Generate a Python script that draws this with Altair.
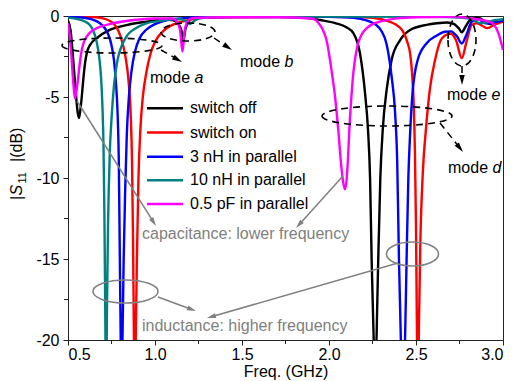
import math
import altair as alt
import pandas as pd

FONT = "Liberation Sans"

series_names = ["switch off", "switch on", "3 nH in parallel", "10 nH in parallel", "0.5 pF in parallel"]
series_colors = ["#000000", "#ff0000", "#0000ff", "#008080", "#ff00ff"]

# (frequency GHz, |S11| dB)
switch_off = [(0.50, -0.3), (0.515, -0.9), (0.53, -2.7), (0.545, -4.75), (0.555, -5.9), (0.563, -6.3),
              (0.571, -5.8), (0.579, -5.0), (0.588, -3.9), (0.598, -2.9), (0.61, -2.2), (0.626, -1.8),
              (0.665, -1.37), (0.74, -0.86), (0.837, -0.56), (0.952, -0.35), (1.05, -0.22), (1.10, -0.25),
              (1.135, -0.5), (1.152, -0.9), (1.163, -1.5), (1.175, -0.8), (1.19, -0.4), (1.22, -0.15),
              (1.3, -0.08), (1.5, -0.06), (1.7, -0.06), (1.85, -0.1), (1.95, -0.25), (2.04, -0.45),
              (2.10, -0.7), (2.14, -1.05), (2.178, -2.3), (2.207, -4.75), (2.224, -7.0), (2.236, -10.0),
              (2.245, -15.0), (2.257, -20.0), (2.265, -24.0), (2.273, -20.0), (2.283, -15.0), (2.295, -10.0),
              (2.309, -7.0), (2.332, -4.5), (2.36, -2.7), (2.408, -1.5), (2.466, -0.86), (2.56, -0.55),
              (2.62, -0.45), (2.68, -0.4), (2.72, -0.5), (2.745, -0.75), (2.763, -1.0), (2.785, -0.65),
              (2.81, -0.25), (2.84, -0.1), (2.87, -0.15), (2.9, -0.4), (2.93, -0.5), (2.96, -0.35), (3.0, -0.3)]

switch_on = [(0.50, -0.02), (0.62, -0.05), (0.70, -0.15), (0.76, -0.45), (0.80, -1.2), (0.83, -2.5),
             (0.848, -4.0), (0.86, -6.0), (0.868, -9.0), (0.874, -14.0), (0.879, -20.0), (0.884, -24.0),
             (0.889, -20.0), (0.896, -15.0), (0.905, -10.0), (0.916, -7.0), (0.93, -5.0), (0.95, -3.5),
             (0.975, -2.3), (1.0, -1.6), (1.05, -0.9), (1.1, -0.55), (1.17, -0.3), (1.25, -0.15),
             (1.4, -0.07), (1.7, -0.05), (2.0, -0.05), (2.2, -0.08), (2.3, -0.2), (2.36, -0.4),
             (2.40, -0.65), (2.425, -0.95), (2.45, -1.6), (2.466, -2.3), (2.478, -3.6), (2.487, -5.5),
             (2.494, -8.5), (2.50, -13.0), (2.505, -19.0), (2.511, -24.0), (2.517, -19.0), (2.525, -14.0),
             (2.54, -9.5), (2.557, -7.0), (2.58, -4.5), (2.61, -2.7), (2.638, -1.6), (2.667, -1.2),
             (2.70, -1.1), (2.73, -1.5), (2.763, -2.6), (2.79, -1.6), (2.82, -0.55), (2.85, -0.45),
             (2.88, -0.6), (2.91, -0.75), (2.94, -0.6), (2.97, -0.45), (3.0, -0.35)]

nh3 = [(0.50, -0.05), (0.60, -0.12), (0.66, -0.3), (0.70, -0.6), (0.73, -1.1), (0.75, -1.8),
       (0.765, -2.8), (0.776, -4.2), (0.785, -6.0), (0.792, -9.0), (0.797, -14.0), (0.803, -20.0),
       (0.808, -24.0), (0.813, -20.0), (0.82, -15.0), (0.828, -11.0), (0.838, -7.3), (0.85, -5.0),
       (0.865, -3.4), (0.885, -2.2), (0.91, -1.4), (0.95, -0.85), (1.0, -0.5), (1.07, -0.25),
       (1.15, -0.15), (1.3, -0.07), (1.6, -0.04), (1.9, -0.04), (2.1, -0.08), (2.18, -0.18),
       (2.236, -0.35), (2.27, -0.55), (2.30, -0.9), (2.33, -1.7), (2.36, -3.75), (2.38, -6.0),
       (2.392, -9.0), (2.402, -15.0), (2.413, -20.0), (2.425, -24.0), (2.437, -20.0), (2.446, -15.0),
       (2.456, -10.0), (2.466, -7.3), (2.48, -4.75), (2.51, -2.7), (2.56, -1.7), (2.62, -1.2),
       (2.667, -0.97), (2.70, -0.95), (2.735, -1.25), (2.763, -1.7), (2.79, -1.15), (2.82, -0.35),
       (2.86, -0.2), (2.9, -0.45), (2.94, -0.4), (3.0, -0.3)]

nh10 = [(0.50, -0.1), (0.56, -0.2), (0.60, -0.35), (0.625, -0.55), (0.645, -0.9), (0.665, -1.6),
        (0.68, -2.6), (0.69, -3.8), (0.698, -5.6), (0.704, -8.0), (0.709, -12.0), (0.714, -18.0),
        (0.719, -24.0), (0.724, -18.0), (0.73, -13.0), (0.74, -8.5), (0.751, -6.2), (0.765, -4.2),
        (0.785, -2.7), (0.81, -1.8), (0.84, -1.2), (0.89, -0.75), (0.95, -0.45), (1.03, -0.3),
        (1.1, -0.2), (1.15, -0.2), (1.18, -0.35), (1.2, -0.5), (1.22, -0.35), (1.26, -0.12),
        (1.4, -0.05), (2.0, -0.03), (2.6, -0.05), (2.75, -0.1), (2.82, -0.2), (2.87, -0.45),
        (2.92, -0.35), (2.96, -0.25), (3.0, -0.2)]

pf05 = [(0.50, -0.45), (0.51, -1.2), (0.521, -2.7), (0.531, -4.2), (0.54, -5.1), (0.549, -4.6),
        (0.559, -3.75), (0.568, -2.9), (0.579, -2.1), (0.59, -1.65), (0.607, -1.27), (0.635, -0.95),
        (0.665, -0.75), (0.74, -0.5), (0.875, -0.25), (1.0, -0.15), (1.1, -0.15), (1.13, -0.4),
        (1.145, -0.95), (1.158, -2.2), (1.17, -0.95), (1.185, -0.4), (1.22, -0.12), (1.4, -0.08),
        (1.7, -0.08), (1.9, -0.15), (1.948, -0.55), (1.99, -1.7), (2.015, -3.4), (2.035, -5.0),
        (2.053, -7.0), (2.07, -9.2), (2.082, -10.3), (2.092, -10.7), (2.102, -10.0), (2.11, -8.6),
        (2.117, -7.0), (2.13, -4.8), (2.14, -3.5), (2.155, -2.3), (2.167, -1.7), (2.19, -1.1),
        (2.217, -0.75), (2.25, -0.5), (2.293, -0.35), (2.39, -0.15), (2.5, -0.08), (2.7, -0.05),
        (2.85, -0.2), (2.92, -0.35), (2.95, -0.55), (2.975, -1.1), (3.0, -2.1)]

curves = [switch_off, switch_on, nh3, nh10, pf05]

x_ticks = [0.5, 1.0, 1.5, 2.0, 2.5, 3.0]
x_minor = [0.75, 1.25, 1.75, 2.25, 2.75]
y_ticks = [-20, -15, -10, -5, 0]
y_minor = [-17.5, -12.5, -7.5, -2.5]

W, H = 435, 324
OX, OY = 68, 16
INK = "#222222"
GRAY = "#808080"

x_scale = alt.Scale(domain=[0.5, 3.0], nice=False, zero=False)
y_scale = alt.Scale(domain=[-20, 0], nice=False, zero=False)
color_scale = alt.Scale(domain=series_names, range=series_colors)

X_AXIS = alt.Axis(
    values=x_ticks, labelExpr="format(datum.value, '.1f')", title="Freq. (GHz)",
    labelFont=FONT, labelFontSize=16, labelColor="black", tickSize=5, tickColor=INK,
    domainColor=INK, labelPadding=1, titleFont=FONT, titleFontSize=16,
    titleFontWeight="normal", titleColor="black", titlePadding=1, grid=False)
Y_AXIS = alt.Axis(
    values=y_ticks, labelExpr="datum.value + ''", title=None,
    labelFont=FONT, labelFontSize=16, labelColor="black", tickSize=5, tickColor=INK,
    domainColor=INK, labelPadding=4, grid=False)

one = pd.DataFrame({"k": [0]})


def px(x):
    return x - OX


def py(y):
    return y - OY


layers = []

# minor ticks (drawn with the shared scales)
layers.append(
    alt.Chart(pd.DataFrame({"f": x_minor})).mark_rule(color=INK, strokeWidth=1).encode(
        x=alt.X("f:Q", scale=x_scale, axis=X_AXIS), y=alt.value(H), y2=alt.value(H + 4))
)
layers.append(
    alt.Chart(pd.DataFrame({"db": y_minor})).mark_rule(color=INK, strokeWidth=1).encode(
        y=alt.Y("db:Q", scale=y_scale, axis=Y_AXIS), x=alt.value(0), x2=alt.value(-4))
)

# curves
for name, pts in zip(series_names, curves):
    df = pd.DataFrame(pts, columns=["f", "db"])
    df["s"] = name
    layers.append(
        alt.Chart(df).mark_line(clip=True, strokeWidth=2.4, interpolate="monotone").encode(
            x=alt.X("f:Q", scale=x_scale, axis=X_AXIS),
            y=alt.Y("db:Q", scale=y_scale, axis=Y_AXIS),
            color=alt.Color("s:N", scale=color_scale, legend=None),
        )
    )

# legend (manual)
leg_y = [108.3, 132.5, 156.7, 180.3, 204.0]
for name, col, yy in zip(series_names, series_colors, leg_y):
    layers.append(alt.Chart(one).mark_rule(color=col, strokeWidth=2.5).encode(
        x=alt.value(px(147)), x2=alt.value(px(183)), y=alt.value(py(yy))))
    layers.append(alt.Chart(one).mark_text(
        font=FONT, fontSize=16, align="left", baseline="middle", color="black").encode(
        x=alt.value(px(190)), y=alt.value(py(yy)), text=alt.value(name)))


def text(t, x, y, color="black", size=16, style="normal", angle=0, baseline="middle"):
    kw = dict(font=FONT, fontSize=size, align="left", baseline=baseline, color=color, fontStyle=style)
    if angle:
        kw["angle"] = angle
    return alt.Chart(one).mark_text(**kw).encode(
        x=alt.value(px(x)), y=alt.value(py(y)), text=alt.value(t))


# mode labels
for letter, x, y in [("a", 150, 78), ("b", 240, 62), ("e", 447, 95), ("d", 448, 168)]:
    layers.append(text("mode", x, y))
    layers.append(text(letter, x + 44.5, y, style="italic"))

layers.append(text("capacitance: lower frequency", 142, 234, color=GRAY))
layers.append(text("inductance: higher frequency", 142, 326, color=GRAY))

# y title  |S11|(dB)
layers.append(text("|", 22, 200, angle=270, baseline="alphabetic"))
layers.append(text("S", 22, 195.5, angle=270, baseline="alphabetic", style="italic"))
layers.append(text("11", 26, 183.5, size=11, angle=270, baseline="alphabetic"))
layers.append(text("|(dB)", 22, 162, angle=270, baseline="alphabetic"))


def ellipse(cx, cy, rx, ry, color, dash):
    k = ry / rx
    path = f"M-1,0A1,{k:.4f} 0 1,0 1,0A1,{k:.4f} 0 1,0 -1,0Z"
    kw = dict(shape=path, size=(2 * rx) ** 2, filled=False, color=color, strokeWidth=1.6, opacity=1)
    if dash:
        kw["strokeDash"] = [7, 5]
    return alt.Chart(one).mark_point(**kw).encode(x=alt.value(px(cx)), y=alt.value(py(cy)))


layers.append(ellipse(112, 45.5, 50, 7.5, "black", True))
layers.append(ellipse(188, 32, 27, 9, "black", True))
layers.append(ellipse(462, 40, 14, 26, "black", True))
layers.append(ellipse(387, 116, 65, 10, "black", True))
layers.append(ellipse(125.5, 291.5, 32.5, 11.5, GRAY, False))
layers.append(ellipse(412.5, 254, 26, 12, GRAY, False))

HEAD = "M0,-1L0.55,1L-0.55,1Z"


def arrow(x0, y0, x1, y1, color, dash, length):
    dx, dy = x1 - x0, y1 - y0
    n = math.hypot(dx, dy)
    ux, uy = dx / n, dy / n
    s = length / 2
    cx, cy = x1 - ux * s, y1 - uy * s
    ang = math.degrees(math.atan2(ux, -uy)) % 360
    rkw = dict(color=color, strokeWidth=1.5)
    if dash:
        rkw["strokeDash"] = [7, 5]
    out = [alt.Chart(one).mark_rule(**rkw).encode(
        x=alt.value(px(x0)), y=alt.value(py(y0)), x2=alt.value(px(cx)), y2=alt.value(py(cy)))]
    out.append(alt.Chart(one).mark_point(shape=HEAD, size=length ** 2, filled=True, color=color,
                                         opacity=1, angle=ang, strokeWidth=0).encode(
        x=alt.value(px(cx)), y=alt.value(py(cy))))
    return out


layers += arrow(161, 50, 182, 62, "black", True, 10)
layers += arrow(214, 38, 232, 50, "black", True, 10)
layers += arrow(462, 66, 462, 85, "black", True, 10)
layers += arrow(440, 123, 463, 152, "black", True, 10)
layers += arrow(77, 101, 156, 226, GRAY, False, 9)
layers += arrow(343, 176, 296, 228, GRAY, False, 9)
layers += arrow(158, 297, 196, 311, GRAY, False, 9)
layers += arrow(398, 263, 207, 318, GRAY, False, 9)

chart = alt.layer(*layers).properties(
    width=W, height=H,
    autosize=alt.AutoSizeParams(type="none"),
    padding={"left": OX, "top": OY, "right": 514 - OX - W, "bottom": 381 - OY - H},
    background="white",
).configure_view(stroke=INK, strokeWidth=1)

chart.save("out.html", embed_options={"renderer": "svg", "actions": False})
